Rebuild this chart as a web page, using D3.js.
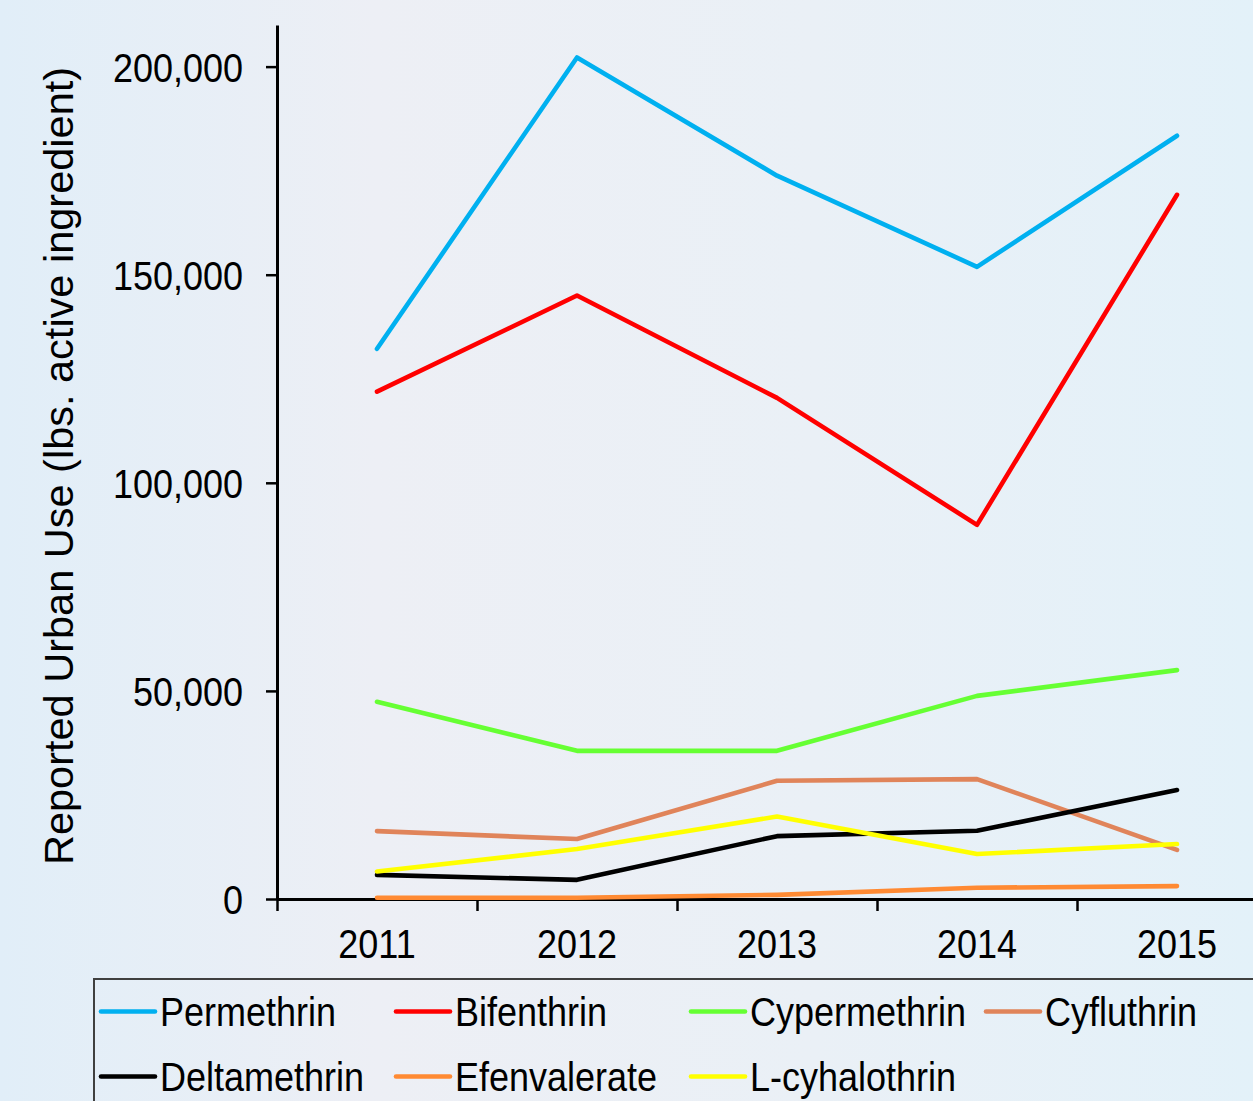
<!DOCTYPE html>
<html>
  <head>
    <title>Reported Urban Use of Pyrethroids</title>
    <script src="https://cdnjs.cloudflare.com/ajax/libs/d3/7.8.5/d3.min.js"></script>
    <style>
      body {
        margin: 0;
        overflow: hidden;
        font-family: "Liberation Sans", Arial, Helvetica, sans-serif;
      }
      .axis path,
      .axis line {
        stroke: #000;
      }
      .series {
        fill: none;
        stroke-width: 4.6px;
        stroke-linejoin: round;
        stroke-linecap: round;
      }
    </style>
  </head>
  <body>
    <svg id="chart" width="1253" height="1101"></svg>
    <script>
      const width = 1253;
      const height = 1101;

      // Data (lbs. active ingredient)
      const years = ["2011", "2012", "2013", "2014", "2015"];
      const seriesNames = [
        "Permethrin",
        "Bifenthrin",
        "Cypermethrin",
        "Cyfluthrin",
        "Deltamethrin",
        "Efenvalerate",
        "L-cyhalothrin",
      ];
      const permethrin = [132200, 202200, 173800, 151900, 183400];
      const bifenthrin = [121900, 145000, 120400, 89900, 169200];
      const cypermethrin = [47400, 35600, 35600, 48800, 55000];
      const cyfluthrin = [16300, 14400, 28400, 28800, 11800];
      const deltamethrin = [5800, 4600, 15100, 16400, 26200];
      const efenvalerate = [300, 300, 1000, 2700, 3100];
      const lcyhalothrin = [6600, 12000, 19800, 10800, 13200];
      const yTicks = [0, 50000, 100000, 150000, 200000];

      const seriesValues = [
        permethrin,
        bifenthrin,
        cypermethrin,
        cyfluthrin,
        deltamethrin,
        efenvalerate,
        lcyhalothrin,
      ];
      const colors = [
        "#00b0f0",
        "#ff0000",
        "#66ff33",
        "#e0845a",
        "#000000",
        "#ff8a33",
        "#ffff00",
      ];

      const stretch = 1.13; // text in the picture is a little taller than wide

      const svg = d3.select("#chart");

      // Background
      const defs = svg.append("defs");
      const grad = defs
        .append("linearGradient")
        .attr("id", "bg")
        .attr("x1", "0%")
        .attr("x2", "100%")
        .attr("y1", "0%")
        .attr("y2", "0%");
      grad.append("stop").attr("offset", "0%").attr("stop-color", "#e1eef8");
      grad.append("stop").attr("offset", "30%").attr("stop-color", "#edeff5");
      grad.append("stop").attr("offset", "65%").attr("stop-color", "#eaf0f6");
      grad.append("stop").attr("offset", "100%").attr("stop-color", "#e3f1f9");
      svg
        .append("rect")
        .attr("width", width)
        .attr("height", height)
        .attr("fill", "url(#bg)");

      // Scales
      const x = d3.scalePoint().domain(years).range([277, 1277]).padding(0.5);
      const xBounds = d3.scaleLinear().domain([0, years.length]).range([277, 1277]);
      const y = d3.scaleLinear().domain([0, 210000]).range([899, 25]);

      // Y axis
      const yAxis = svg
        .append("g")
        .attr("class", "axis")
        .attr("transform", "translate(277,0)")
        .call(
          d3
            .axisLeft(y)
            .tickValues(yTicks)
            .tickSizeInner(11)
            .tickSizeOuter(0)
            .tickPadding(23)
            .tickFormat(d3.format(","))
        );
      yAxis.select(".domain").attr("stroke-width", 3);
      yAxis.selectAll(".tick line").attr("stroke-width", 2.5);
      yAxis
        .selectAll(".tick text")
        .attr("font-size", 36)
        .attr("font-family", "Liberation Sans, Arial, sans-serif")
        .attr("fill", "#000")
        .attr("dy", "0.36em")
        .attr("transform", `scale(1,${stretch})`);

      // X axis (ticks sit between the years)
      const xAxis = svg
        .append("g")
        .attr("class", "axis")
        .attr("transform", "translate(0,899)")
        .call(
          d3
            .axisBottom(xBounds)
            .tickValues(d3.range(0, years.length + 1))
            .tickSizeInner(12)
            .tickSizeOuter(0)
            .tickFormat("")
        );
      xAxis.select(".domain").attr("stroke-width", 3);
      xAxis.selectAll(".tick line").attr("stroke-width", 2.5);

      svg
        .append("g")
        .selectAll("text")
        .data(years)
        .enter()
        .append("text")
        .attr("transform", (d) => `translate(${x(d)},958) scale(1,${stretch})`)
        .attr("text-anchor", "middle")
        .attr("font-size", 36)
        .attr("fill", "#000")
        .text((d) => d);

      // Y axis title
      svg
        .append("text")
        .attr("transform", "translate(73,466) rotate(-90)")
        .attr("text-anchor", "middle")
        .attr("font-size", 41.5)
        .attr("fill", "#000")
        .text("Reported Urban Use (lbs. active ingredient)");

      // Lines
      const line = d3
        .line()
        .x((d, i) => x(years[i]))
        .y((d) => y(d));

      svg
        .append("g")
        .selectAll("path")
        .data(seriesValues)
        .enter()
        .append("path")
        .attr("class", "series")
        .attr("stroke", (d, i) => colors[i])
        .attr("d", line);

      // Legend
      svg
        .append("rect")
        .attr("x", 94)
        .attr("y", 979)
        .attr("width", 1200)
        .attr("height", 200)
        .attr("fill", "none")
        .attr("stroke", "#3f3f3f")
        .attr("stroke-width", 2);

      const legendCols = 4;
      const legend = svg
        .append("g")
        .selectAll("g")
        .data(seriesNames)
        .enter()
        .append("g")
        .attr(
          "transform",
          (d, i) =>
            `translate(${101 + (i % legendCols) * 295},${1011.5 + Math.floor(i / legendCols) * 65})`
        );

      legend
        .append("line")
        .attr("x1", 0)
        .attr("x2", 54)
        .attr("stroke", (d, i) => colors[i])
        .attr("stroke-width", 4.6)
        .attr("stroke-linecap", "round");

      legend
        .append("text")
        .attr("transform", `translate(59,14) scale(1,${stretch})`)
        .attr("font-size", 36)
        .attr("fill", "#000")
        .text((d) => d);
    </script>
  </body>
</html>
